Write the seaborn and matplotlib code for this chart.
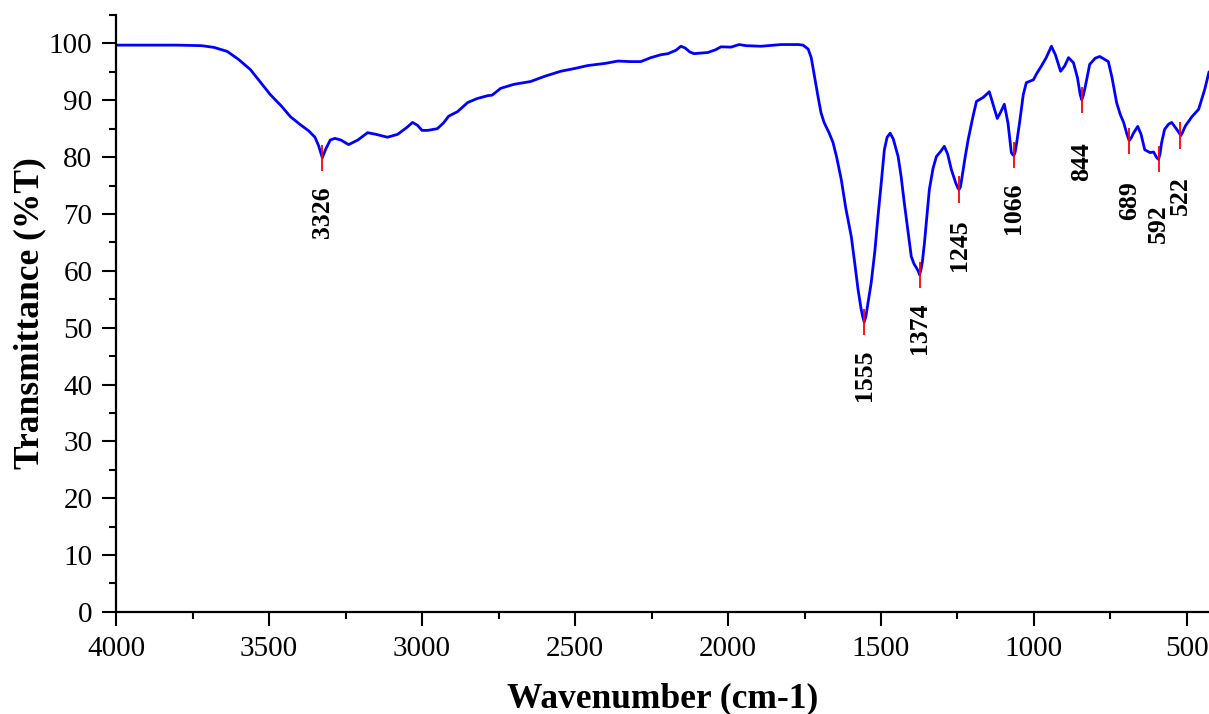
import numpy as np
import pandas as pd
import seaborn as sns
import matplotlib.pyplot as plt
from matplotlib.ticker import MultipleLocator

# FTIR spectrum (wavenumber in cm-1, transmittance in %T)
wavenumber = [4000, 3900, 3800, 3720, 3680, 3637, 3600, 3561, 3530, 3496, 3460, 3430, 3400, 3370,
              3350, 3338, 3326, 3314, 3300, 3285, 3265, 3240, 3210, 3178, 3150, 3113, 3080, 3050,
              3031, 3015, 3000, 2982, 2950, 2930, 2913, 2884, 2851, 2820, 2786, 2771, 2743, 2700,
              2645, 2600, 2547, 2500, 2459, 2400, 2360, 2320, 2285, 2252, 2220, 2196, 2170, 2154,
              2140, 2125, 2111, 2066, 2040, 2023, 1990, 1964, 1940, 1892, 1827, 1770, 1755, 1738,
              1728, 1715, 1706, 1696, 1686, 1670, 1657, 1645, 1630, 1615, 1597, 1585, 1575, 1565,
              1560, 1555, 1550, 1545, 1532, 1520, 1510, 1500, 1489, 1480, 1470, 1460, 1444, 1434,
              1424, 1412, 1401, 1392, 1385, 1378, 1374, 1369, 1365, 1358, 1350, 1342, 1330, 1319,
              1305, 1293, 1282, 1270, 1256, 1249, 1245, 1240, 1235, 1225, 1215, 1200, 1188, 1166,
              1146, 1135, 1120, 1110, 1097, 1085, 1074, 1069, 1066, 1062, 1058, 1047, 1035, 1025,
              1002, 990, 976, 960, 943, 930, 913, 900, 887, 871, 858, 849, 844, 839, 832, 818, 800,
              785, 757, 745, 730, 718, 707, 696, 689, 682, 675, 661, 650, 638, 621, 609, 600, 593,
              588, 583, 573, 560, 550, 535, 525, 520, 515, 505, 484, 462, 442, 428]
transmittance = [99.7, 99.7, 99.7, 99.6, 99.3, 98.6, 97.2, 95.4, 93.3, 91.0, 89.0, 87.1, 85.8, 84.6,
                 83.5, 82.0, 79.9, 81.5, 83.0, 83.3, 83.0, 82.2, 83.0, 84.3, 84.0, 83.5, 84.0, 85.2,
                 86.1, 85.6, 84.7, 84.7, 85.0, 86.0, 87.2, 88.0, 89.6, 90.3, 90.8, 90.9, 92.1, 92.8,
                 93.3, 94.2, 95.1, 95.6, 96.1, 96.5, 96.9, 96.8, 96.8, 97.5, 98.0, 98.2, 98.8, 99.5,
                 99.2, 98.5, 98.2, 98.4, 98.9, 99.4, 99.35, 99.8, 99.6, 99.5, 99.8, 99.8, 99.7, 99.0,
                 97.5, 93.5, 90.7, 87.8, 86.1, 84.3, 82.6, 80.0, 76.1, 71.0, 66.0, 61.0, 56.7, 53.3,
                 52.0, 51.0, 51.8, 53.5, 57.9, 63.5, 69.5, 75.0, 81.3, 83.5, 84.2, 83.2, 80.1, 76.5,
                 72.0, 67.0, 62.5, 61.2, 60.6, 59.9, 59.3, 60.3, 61.5, 64.9, 69.5, 74.3, 78.0, 80.1,
                 81.0, 81.9, 80.5, 77.8, 75.5, 74.6, 74.3, 74.8, 76.5, 80.0, 83.1, 87.0, 89.8, 90.5,
                 91.5, 89.5, 86.8, 87.8, 89.3, 86.0, 80.8, 80.4, 80.3, 80.8, 82.0, 86.1, 91.0, 93.1,
                 93.6, 94.8, 96.0, 97.5, 99.5, 98.0, 95.1, 96.0, 97.5, 96.6, 94.0, 91.0, 90.1, 90.8,
                 92.5, 96.3, 97.4, 97.7, 96.8, 94.0, 89.6, 87.5, 86.1, 84.0, 82.9, 83.4, 84.2, 85.4,
                 84.0, 81.3, 80.8, 80.9, 80.0, 79.6, 80.6, 82.5, 84.9, 85.8, 86.1, 85.0, 84.2, 83.8,
                 84.3, 85.5, 87.1, 88.4, 91.9, 95.0]

# labelled peaks
peaks = [3326, 1555, 1374, 1245, 1066, 844, 689, 592, 522]
peak_t = [79.9, 51.0, 59.3, 74.3, 80.3, 90.1, 82.9, 79.6, 83.8]
label_t = [74.8, 46.1, 54.4, 69.0, 75.5, 82.7, 75.7, 71.7, 76.6]

df = pd.DataFrame({"Wavenumber": wavenumber, "Transmittance": transmittance})

sns.set_style("ticks")
plt.rcParams['font.family'] = ['Liberation Serif', 'DejaVu Serif']
plt.rcParams['text.color'] = 'black'
plt.rcParams['axes.labelcolor'] = 'black'
plt.rcParams['xtick.color'] = 'black'
plt.rcParams['ytick.color'] = 'black'

fig = plt.figure(figsize=(12.09, 7.14), dpi=100)
ax = fig.add_axes([0.096, 0.143, 0.904, 0.836])

sns.lineplot(data=df, x="Wavenumber", y="Transmittance", color="blue", linewidth=2.0, ax=ax)

# red peak markers and rotated labels
ax.vlines(peaks, np.array(peak_t) - 2.3, np.array(peak_t) + 2.3, colors="red", linewidth=1.3, zorder=3)
for w, t in zip(peaks, label_t):
    ax.text(w, t, str(w), rotation=90, ha="center", va="top",
            fontsize=18.5, fontweight="bold")

ax.set_xlim(4000, 428)
ax.set_ylim(0, 105)
ax.xaxis.set_major_locator(MultipleLocator(500))
ax.xaxis.set_minor_locator(MultipleLocator(250))
ax.yaxis.set_major_locator(MultipleLocator(10))
ax.yaxis.set_minor_locator(MultipleLocator(5))
ax.set_yticks(range(0, 101, 10))

ax.tick_params(which="major", length=10, width=1.5, labelsize=21, pad=7)
ax.tick_params(which="minor", length=5, width=1.5)
for side in ["top", "right"]:
    ax.spines[side].set_visible(False)
for side in ["left", "bottom"]:
    ax.spines[side].set_linewidth(1.6)
    ax.spines[side].set_color("black")

ax.set_xlabel("Wavenumber (cm-1)", fontsize=25.5, fontweight="bold", labelpad=15)
ax.set_ylabel("Transmittance (%T)", fontsize=25.5, fontweight="bold", labelpad=2)

plt.savefig("out.png", dpi=100)
